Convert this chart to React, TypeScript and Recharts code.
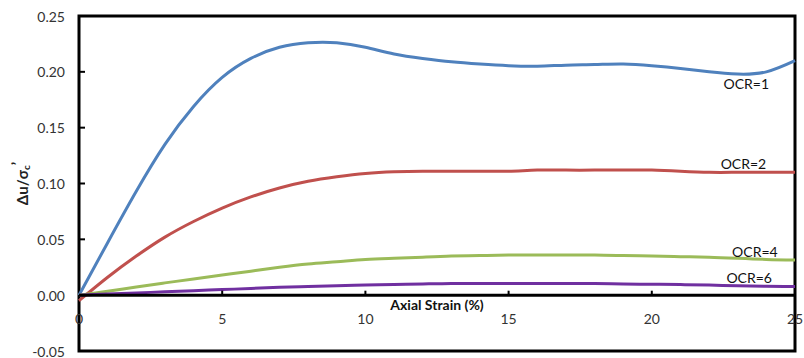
import React from 'react';
import { LineChart, Line, XAxis, YAxis, ReferenceLine, ReferenceArea, ReferenceDot } from 'recharts';

const strain = [0, 1, 2, 3, 4, 5, 6, 7, 8, 9, 10, 11, 12, 13, 14, 15, 16, 17, 18, 19, 20, 21, 22, 23, 24, 25];
const ocr1 = [0, 0.047, 0.093, 0.135, 0.169, 0.195, 0.212, 0.222, 0.226, 0.226, 0.222, 0.216, 0.212, 0.209, 0.207, 0.2055, 0.205, 0.206, 0.2065, 0.207, 0.2055, 0.203, 0.2, 0.198, 0.2, 0.21];
const ocr2 = [-0.005, 0.016, 0.035, 0.052, 0.066, 0.078, 0.088, 0.096, 0.102, 0.106, 0.109, 0.1105, 0.111, 0.111, 0.111, 0.111, 0.112, 0.112, 0.112, 0.112, 0.112, 0.111, 0.11, 0.11, 0.11, 0.11];
const ocr4 = [0, 0.0035, 0.0074, 0.011, 0.0145, 0.018, 0.0215, 0.025, 0.028, 0.03, 0.032, 0.033, 0.034, 0.035, 0.0355, 0.036, 0.036, 0.036, 0.036, 0.0355, 0.035, 0.0345, 0.034, 0.033, 0.032, 0.0315];
const ocr6 = [0, 0.001, 0.002, 0.003, 0.004, 0.005, 0.006, 0.007, 0.0078, 0.0085, 0.009, 0.0095, 0.01, 0.0105, 0.0105, 0.0105, 0.0105, 0.0105, 0.0105, 0.01, 0.0098, 0.0095, 0.009, 0.0085, 0.008, 0.0078];

const yTicks = [-0.05, 0, 0.05, 0.1, 0.15, 0.2, 0.25];
const xTickValues = [0, 5, 10, 15, 20, 25];
const seriesLabels = ['OCR=1', 'OCR=2', 'OCR=4', 'OCR=6'];
const labelX = [23.3, 23.2, 23.6, 23.4];
const labelY = [0.189, 0.1176, 0.0387, 0.0149];

const data = strain.map((s, i) => ({ strain: s, ocr1: ocr1[i], ocr2: ocr2[i], ocr4: ocr4[i], ocr6: ocr6[i] }));

const YTick = (props: any) => {
  const { x, y, payload } = props;
  return (
    <g>
      <line x1={x} x2={x + 6} y1={y} y2={y} stroke="#000" strokeWidth={2} />
      <text x={x - 14} y={y} textAnchor="end" dominantBaseline="central" fontSize={14} fill="#333">
        {Number(payload.value).toFixed(2)}
      </text>
    </g>
  );
};

const YLabel = (props: any) => {
  const vb = props.viewBox || { x: 0, y: 16, width: 79, height: 335 };
  const cx = vb.x + 22;
  const cy = vb.y + vb.height / 2;
  return (
    <text x={cx} y={cy} transform={`rotate(-90, ${cx}, ${cy})`} textAnchor="middle" dominantBaseline="central" fontSize={15} fontWeight="bold" fill="#222">
      Δu/σ<tspan fontSize={10} dy={4}>c</tspan><tspan dy={-9}>’</tspan>
    </text>
  );
};

export default function App() {
  return (
    <div style={{ position: 'absolute', left: 0, top: 0, background: '#fff', fontFamily: 'Lato, sans-serif' }}>
      <LineChart width={804} height={358} data={data} margin={{ top: 16, right: 9, bottom: 7, left: 0 }}>
        <XAxis type="number" dataKey="strain" domain={[0, 25]} hide />
        <YAxis
          type="number"
          domain={[-0.05, 0.25]}
          ticks={yTicks}
          width={79}
          axisLine={false}
          tickLine={false}
          tickSize={0}
          tickMargin={0}
          tick={<YTick />}
          interval={0}
          label={<YLabel />}
        />
        <ReferenceArea x1={0} x2={25} y1={-0.05} y2={0.25} fill="none" stroke="#000" strokeWidth={3} />
        <Line type="natural" dataKey="ocr1" stroke="#4F81BD" strokeWidth={3} dot={false} isAnimationActive={false} />
        <Line type="natural" dataKey="ocr2" stroke="#C0504D" strokeWidth={3} dot={false} isAnimationActive={false} />
        <Line type="natural" dataKey="ocr4" stroke="#9BBB59" strokeWidth={3} dot={false} isAnimationActive={false} />
        <Line type="natural" dataKey="ocr6" stroke="#7030A0" strokeWidth={3} dot={false} isAnimationActive={false} />
        <ReferenceLine
          y={0}
          stroke="#000"
          strokeWidth={3}
          label={{ value: 'Axial Strain (%)', position: 'bottom', offset: 5, fontSize: 14, fontWeight: 'bold', fill: '#111' }}
        />
        {xTickValues.filter((t) => t > 0 && t < 25).map((t) => (
          <ReferenceLine key={'tk' + t} segment={[{ x: t, y: 0 }, { x: t, y: 0.004 }]} stroke="#000" strokeWidth={2} />
        ))}
        {xTickValues.map((t) => (
          <ReferenceDot
            key={'xl' + t}
            x={t}
            y={0}
            r={1}
            fill="none"
            stroke="none"
            label={{ value: String(t), position: 'bottom', offset: 18, fontSize: 14, fill: '#333' }}
          />
        ))}
        {seriesLabels.map((s, i) => (
          <ReferenceDot
            key={s}
            x={labelX[i]}
            y={labelY[i]}
            r={1}
            fill="none"
            stroke="none"
            label={{ value: s, position: 'center', fontSize: 14, fill: '#111' }}
          />
        ))}
      </LineChart>
    </div>
  );
}
